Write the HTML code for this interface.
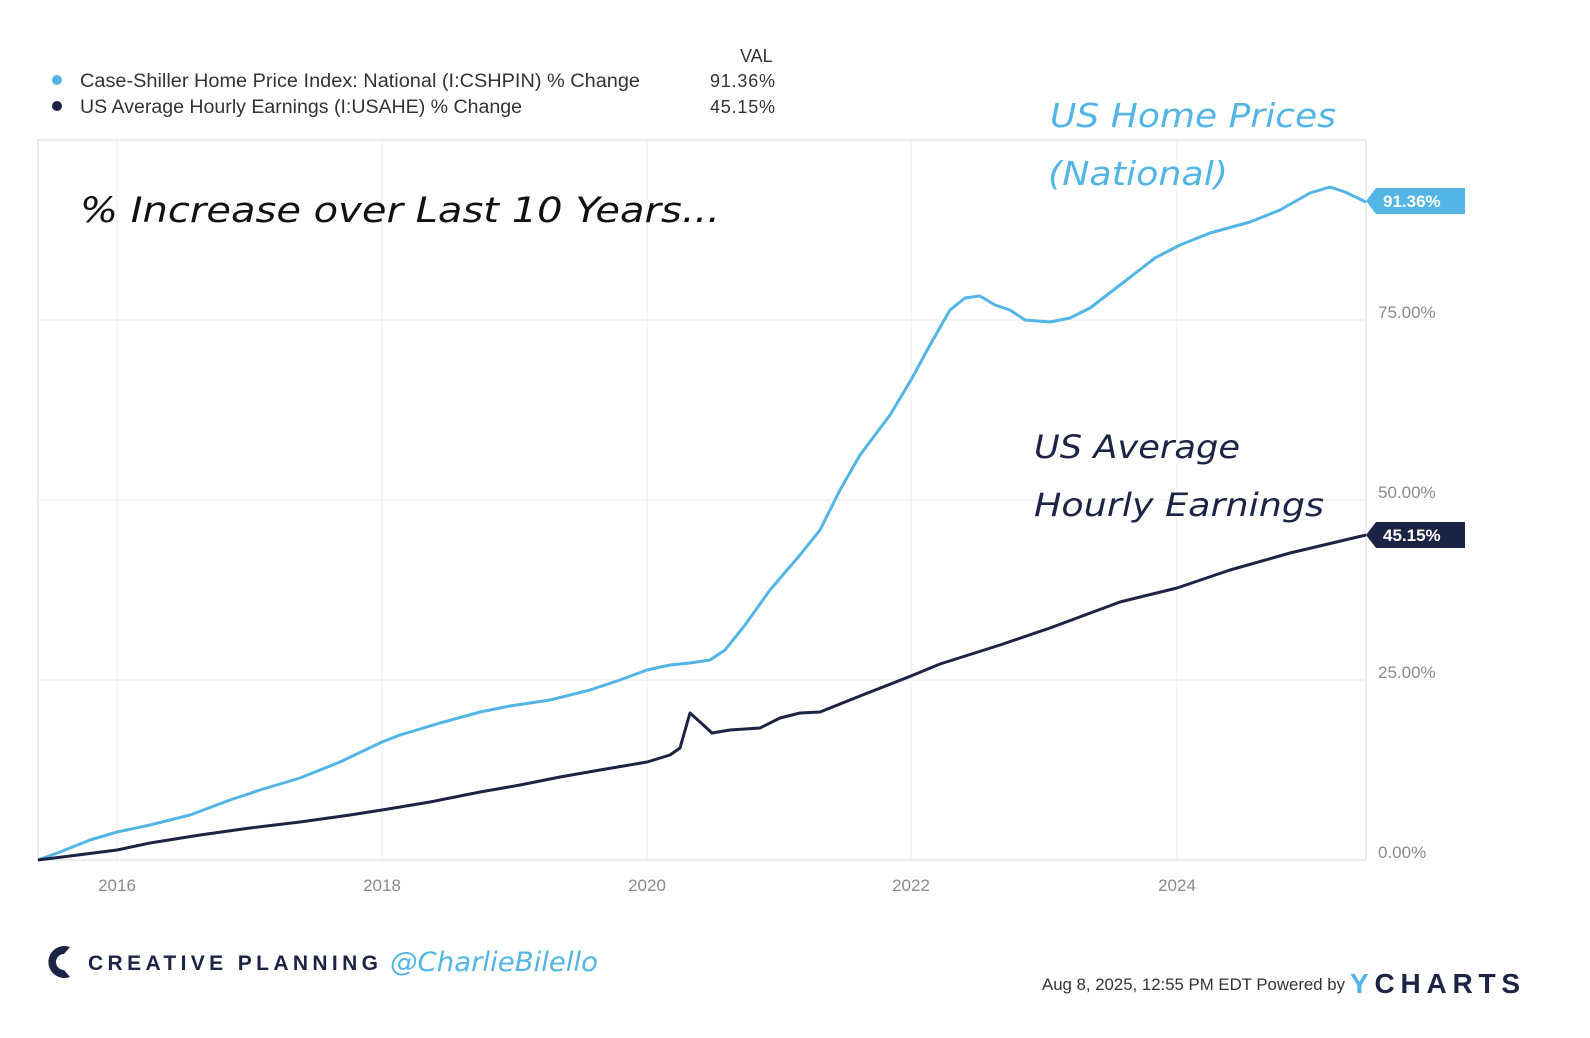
<!DOCTYPE html>
<html><head><meta charset="utf-8"><style>
body{margin:0;width:1590px;height:1038px;background:#fff;overflow:hidden;font-family:"Liberation Sans",sans-serif;}
</style></head><body>
<svg width="1590" height="1038" xmlns="http://www.w3.org/2000/svg" style="position:absolute;left:0;top:0">
<rect x="38" y="140" width="1328" height="720" fill="none" stroke="#e6e6e6" stroke-width="1.5"/>
<g stroke="#eeeeee" stroke-width="1.2">
<line x1="38" y1="320" x2="1366" y2="320"/><line x1="38" y1="500" x2="1366" y2="500"/><line x1="38" y1="680" x2="1366" y2="680"/>
<line x1="117" y1="140" x2="117" y2="860"/><line x1="382" y1="140" x2="382" y2="860"/><line x1="647" y1="140" x2="647" y2="860"/><line x1="911" y1="140" x2="911" y2="860"/><line x1="1177" y1="140" x2="1177" y2="860"/>
</g>
<g font-size="17" fill="#8a8a8a">
<text x="1378" y="318">75.00%</text><text x="1378" y="498">50.00%</text><text x="1378" y="678">25.00%</text><text x="1378" y="858">0.00%</text>
<text x="117" y="891" text-anchor="middle">2016</text><text x="382" y="891" text-anchor="middle">2018</text><text x="647" y="891" text-anchor="middle">2020</text><text x="911" y="891" text-anchor="middle">2022</text><text x="1177" y="891" text-anchor="middle">2024</text>
</g>
<polyline fill="none" stroke="#52b5e6" stroke-width="3" stroke-linejoin="round" points="38,860 60,852 90,840 117,832 150,825 190,815 230,800 260,790 300,778 340,762 382,742 400,735 440,723 480,712 510,706 550,700 590,690 620,680 647,670 670,665 690,663 710,660 725,650 745,625 770,590 800,555 820,530 840,490 860,455 890,415 911,380 930,345 950,310 965,298 980,296 995,305 1010,310 1025,320 1050,322 1070,318 1090,308 1120,285 1155,258 1180,245 1210,233 1250,222 1280,210 1310,193 1330,187 1345,192 1366,202"/>
<polyline fill="none" stroke="#1b2444" stroke-width="3" stroke-linejoin="round" points="38,860 70,856 117,850 150,843 200,835 250,828 300,822 350,815 382,810 430,802 480,792 520,785 560,777 600,770 647,762 670,755 680,748 690,713 700,722 712,733 730,730 760,728 780,718 800,713 820,712 860,696 911,676 940,664 1000,645 1050,628 1120,602 1177,588 1230,570 1290,553 1366,535"/>
<polygon points="1366,201 1376,188 1465,188 1465,214 1376,214" fill="#52b5e6"/>
<text x="1383" y="207" font-size="17" font-weight="bold" fill="#fff">91.36%</text>
<polygon points="1366,535 1376,522 1465,522 1465,548 1376,548" fill="#1b2444"/>
<text x="1383" y="541" font-size="17" font-weight="bold" fill="#fff">45.15%</text>
<text x="740" y="62" font-size="18" fill="#333">VAL</text>
<circle cx="57" cy="80" r="5" fill="#52b5e6"/><circle cx="57" cy="106" r="5" fill="#1b2444"/>
<text x="80" y="87" font-size="19" fill="#333" textLength="560" lengthAdjust="spacingAndGlyphs">Case-Shiller Home Price Index: National (I:CSHPIN) % Change</text>
<text x="80" y="113" font-size="19" fill="#333" textLength="442" lengthAdjust="spacingAndGlyphs">US Average Hourly Earnings (I:USAHE) % Change</text>
<text x="710" y="87" font-size="18" fill="#333" textLength="65">91.36%</text><text x="710" y="113" font-size="18" fill="#333" textLength="65">45.15%</text>
<g font-family="DejaVu Sans" font-style="italic">
<text x="80" y="222" font-size="35" fill="#111" textLength="640" lengthAdjust="spacingAndGlyphs">% Increase over Last 10 Years...</text>
<text x="1050" y="127" font-size="33" fill="#52b5e6" textLength="286" lengthAdjust="spacingAndGlyphs">US Home Prices</text>
<text x="1048" y="185" font-size="33" fill="#52b5e6" textLength="180" lengthAdjust="spacingAndGlyphs">(National)</text>
<text x="1034" y="458" font-size="32" fill="#1b2444" textLength="206" lengthAdjust="spacingAndGlyphs">US Average</text>
<text x="1034" y="516" font-size="32" fill="#1b2444" textLength="290" lengthAdjust="spacingAndGlyphs">Hourly Earnings</text>
<text x="390" y="971" font-size="27" fill="#52b5e6" textLength="208" lengthAdjust="spacingAndGlyphs">@CharlieBilello</text>
</g>
<path d="M70,947 A16,16 0 1 0 70,977 L64,970 A8,8 0 1 1 64,954 Z" fill="#1b2444"/>
<text x="88" y="970" font-size="21" font-weight="bold" fill="#1b2444" textLength="290" lengthAdjust="spacing">CREATIVE PLANNING</text>
<text x="1042" y="990" font-size="17" fill="#333" textLength="303" lengthAdjust="spacingAndGlyphs">Aug 8, 2025, 12:55 PM EDT Powered by</text>
<text x="1350" y="993" font-size="28" font-weight="bold" fill="#1b2444" textLength="170" lengthAdjust="spacing"><tspan fill="#52b5e6">Y</tspan>CHARTS</text>
</svg>
</body></html>
